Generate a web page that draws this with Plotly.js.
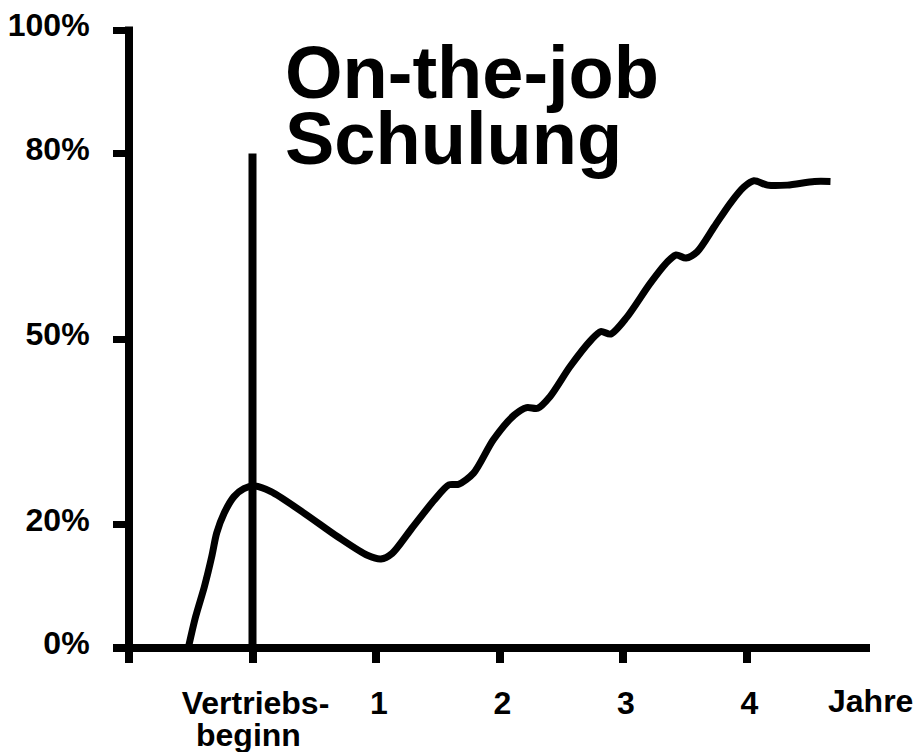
<!DOCTYPE html>
<html><head><meta charset="utf-8">
<script src="https://cdn.plot.ly/plotly-3.0.1.min.js"></script>
<style>html,body{margin:0;padding:0;background:#fff}</style>
</head><body>
<div id="chart" style="width:915px;height:752px"></div>
<script>
// Curve: share (%) over years since Vertriebsbeginn
const years  = [-0.52, -0.46, -0.39, -0.33, -0.29, -0.23, -0.15, -0.07, 0.02, 0.15, 0.42, 0.69, 0.93, 1.04, 1.13, 1.28, 1.47, 1.59, 1.67, 1.79, 1.95, 2.12, 2.22, 2.31, 2.41, 2.57, 2.74, 2.82, 2.90, 3.03, 3.22, 3.36, 3.43, 3.51, 3.60, 3.74, 3.87, 3.98, 4.06, 4.17, 4.33, 4.55, 4.68];
const shares = [0, 5.1, 9.9, 14.8, 18.6, 21.8, 24.5, 25.8, 26.2, 25.3, 21.8, 18.0, 15.0, 14.4, 15.3, 19.1, 23.9, 26.4, 26.5, 28.3, 33.7, 37.7, 38.9, 38.8, 40.7, 45.5, 49.8, 51.2, 50.8, 53.5, 59.0, 62.5, 63.6, 63.1, 64.1, 68.2, 72.0, 74.6, 75.6, 74.9, 74.9, 75.5, 75.5];

const xTickVals = [-1, 0, 1, 2, 3, 4];
const xTickText = ['', 'Vertriebs-', '1', '2', '3', '4'];
const launchLabel2 = 'beginn';
const yTickVals = [0, 20, 50, 80, 100];
const yTickText = ['0%', '20%', '50%', '80%', '100%'];
const xRange = [-1, 5];
const yRange = [0, 100];
const launchX = [0, 0];
const launchY = [0, 80];
const unitLabel = 'Jahre';
const unitX = 5;
const titleLines = ['On-the-job', 'Schulung'];

const FONT = 'Liberation Sans, Arial, Helvetica, sans-serif';
const W = 741, H = 618;
const tickFont = {family: FONT, size: 32, weight: 'bold', color: '#000'};

const traces = [
  {x: years, y: shares, type: 'scatter', mode: 'lines',
   line: {color: '#000', width: 7, shape: 'spline', smoothing: 0.8},
   hoverinfo: 'skip', showlegend: false},
  {x: launchX, y: launchY, type: 'scatter', mode: 'lines',
   line: {color: '#000', width: 8}, hoverinfo: 'skip', showlegend: false}
];

const layout = {
  width: 915, height: 752,
  margin: {l: 129, r: 45, t: 30, b: 104, pad: 0},
  paper_bgcolor: '#fff', plot_bgcolor: '#fff',
  showlegend: false,
  xaxis: {
    range: xRange, showgrid: false, zeroline: false, showline: false,
    tickmode: 'array', tickvals: xTickVals, ticktext: xTickText,
    ticks: 'outside', ticklen: 14, tickwidth: 8, tickcolor: '#000',
    ticklabelstandoff: 13, ticklabelshift: 3,
    tickfont: tickFont,
    fixedrange: true
  },
  yaxis: {
    range: yRange, showgrid: false, zeroline: false, showline: false,
    tickmode: 'array', tickvals: yTickVals, ticktext: yTickText,
    ticks: 'outside', ticklen: 15, tickwidth: 7, tickcolor: '#000',
    ticklabelstandoff: 17, ticklabelshift: -5,
    tickfont: tickFont,
    fixedrange: true
  },
  shapes: [
    {type: 'line', xref: 'paper', yref: 'paper', x0: -16/W, x1: 1, y0: 0, y1: 0,
     line: {color: '#000', width: 8}},
    {type: 'line', xref: 'paper', yref: 'paper', x0: 0, x1: 0, y0: -4/H, y1: 1 + 3.5/H,
     line: {color: '#000', width: 8}}
  ],
  annotations: [
    {xref: 'x', x: -0.035, yref: 'paper', y: 0, yshift: -87, xanchor: 'center', yanchor: 'middle',
     text: launchLabel2, showarrow: false, font: tickFont},
    {xref: 'x', x: unitX, yref: 'paper', y: 0, yshift: -53, xanchor: 'center', yanchor: 'middle',
     text: unitLabel, showarrow: false, font: tickFont},
    {xref: 'paper', x: 0.208, yref: 'paper', y: 0.932, xanchor: 'left', yanchor: 'middle',
     text: titleLines[0], showarrow: false,
     font: {family: FONT, size: 74, weight: 'bold', color: '#000'}},
    {xref: 'paper', x: 0.208, yref: 'paper', y: 0.824, xanchor: 'left', yanchor: 'middle',
     text: titleLines[1], showarrow: false,
     font: {family: FONT, size: 74, weight: 'bold', color: '#000'}}
  ]
};

Plotly.newPlot('chart', traces, layout, {staticPlot: true, displayModeBar: false});
</script>
</body></html>
